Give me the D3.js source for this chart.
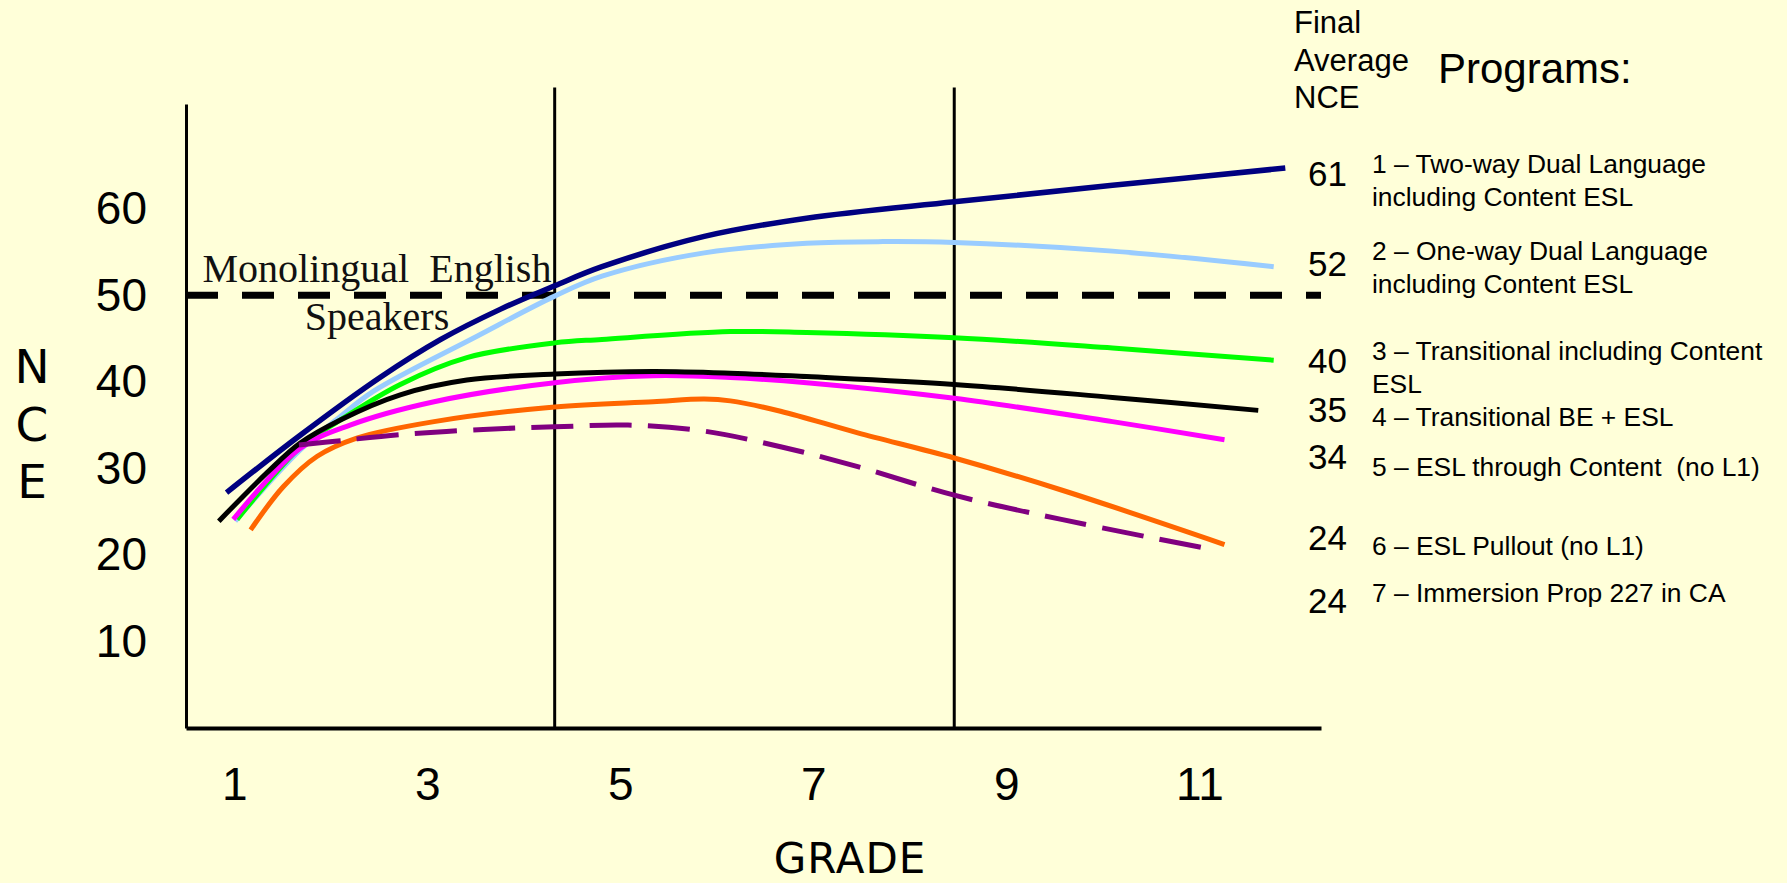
<!DOCTYPE html>
<html>
<head>
<meta charset="utf-8">
<script src="https://cdn.jsdelivr.net/npm/d3@7"></script>
<style>
  html, body { margin: 0; padding: 0; background: #FFFFD9; }
  svg { display: block; }
</style>
</head>
<body>
<svg id="chart" width="1787" height="883"></svg>
<script>
// ---- Data -------------------------------------------------------------
const gradeTicks = [1, 3, 5, 7, 9, 11];
const nceTicks = [10, 20, 30, 40, 50, 60];
const bandDividers = [4.32, 8.46];      // grade positions of the vertical separators
const monolingualNorm = 50;             // NCE of monolingual English speakers

const programLabels = [
  ["1 \u2013 Two-way Dual Language", "including Content ESL"],
  ["2 \u2013 One-way Dual Language", "including Content ESL"],
  ["3 \u2013 Transitional including Content", "ESL"],
  ["4 \u2013 Transitional BE + ESL"],
  ["5 \u2013 ESL through Content  (no L1)"],
  ["6 \u2013 ESL Pullout (no L1)"],
  ["7 \u2013 Immersion Prop 227 in CA"]
];
const finalNCE = [61, 52, 40, 35, 34, 24, 24];
const programColors = ["#000080", "#99CCFF", "#00FF00", "#000000", "#FF00FF", "#FF6600", "#800080"];

// [grade, NCE] pairs for each program
const twoWayDL = [[0.92,27.2],[1.68,33.8],[2.51,40.5],[3.14,44.9],[3.76,48.4],[4.32,51.1],[4.81,53.3],[5.87,56.8],[6.93,58.9],[8.46,60.8],[10.10,62.7],[11.89,64.7]];
const oneWayDL = [[1.01,23.9],[1.68,32.1],[2.10,36.0],[2.44,38.9],[3.52,45.3],[4.32,49.9],[4.81,52.2],[5.87,54.9],[6.93,56.0],[7.72,56.2],[8.46,56.1],[10.10,55.1],[11.77,53.3]];
const transitionalContent = [[1.03,24.1],[1.68,32.4],[2.10,35.6],[2.72,39.7],[3.41,42.8],[4.32,44.5],[4.81,44.9],[6.14,45.8],[6.93,45.7],[8.46,45.1],[10.10,43.9],[11.77,42.5]];
const transitionalBE = [[0.84,23.9],[1.34,29.5],[1.68,32.9],[2.10,35.6],[2.72,38.5],[3.41,40.2],[4.32,40.9],[5.34,41.2],[6.14,41.0],[6.93,40.6],[8.46,39.7],[10.10,38.2],[11.61,36.7]];
const eslContent = [[0.99,24.1],[1.68,32.3],[2.20,35.0],[3.07,37.7],[4.32,39.9],[5.34,40.7],[6.14,40.5],[6.93,39.9],[8.46,38.1],[10.10,35.4],[11.26,33.3]];
const eslPullout = [[1.17,22.9],[1.51,27.9],[1.86,31.4],[2.27,33.5],[3.07,35.4],[4.32,37.1],[5.34,37.7],[5.87,38.0],[6.14,37.8],[6.66,36.6],[7.46,34.1],[8.46,31.2],[9.57,27.5],[11.26,21.2]];
const immersion227 = [[1.67,32.7],[2.10,33.2],[2.72,33.9],[3.58,34.5],[4.32,34.8],[5.08,35.0],[5.87,34.3],[6.66,32.5],[7.46,30.2],[8.46,26.9],[9.57,24.1],[11.05,20.8]];

const programSeries = [twoWayDL, oneWayDL, transitionalContent, transitionalBE, eslContent, eslPullout, immersion227];

// ---- Layout -----------------------------------------------------------
const svg = d3.select("#chart");
const sansFont = "'Liberation Sans', Arial, sans-serif";
const handFont = "'DejaVu Sans', sans-serif";

const x = d3.scaleLinear().domain([0.5, 12.26]).range([186, 1321]);
const y = d3.scaleLinear().domain([0, 72.1]).range([728, 104]);

svg.append("rect").attr("width", 1787).attr("height", 883).attr("fill", "#FFFFD9");

// Vertical grade-band separators
svg.append("g").selectAll("line").data(bandDividers).join("line")
  .attr("x1", d => x(d)).attr("x2", d => x(d))
  .attr("y1", y(0)).attr("y2", y(74))
  .attr("stroke", "#000").attr("stroke-width", 3);

// Axes
const xAxis = svg.append("g").attr("transform", `translate(0,${y(0)})`)
  .call(d3.axisBottom(x).tickValues(gradeTicks).tickSize(0).tickPadding(39).tickFormat(d3.format("d")));
xAxis.select(".domain").attr("stroke", "#000").attr("stroke-width", 4);
xAxis.selectAll("text").attr("font-family", sansFont).attr("font-size", 46).attr("fill", "#000");

const yAxis = svg.append("g").attr("transform", `translate(${x(0.5)},0)`)
  .call(d3.axisLeft(y).tickValues(nceTicks).tickSize(0).tickPadding(39).tickFormat(d3.format("d")));
yAxis.select(".domain").attr("stroke", "#000").attr("stroke-width", 3);
yAxis.selectAll("text").attr("font-family", sansFont).attr("font-size", 46).attr("fill", "#000");

// Axis titles
svg.append("g").selectAll("text").data(["N", "C", "E"]).join("text")
  .attr("x", 32).attr("y", (d, i) => 383 + i * 57.5)
  .attr("text-anchor", "middle")
  .attr("font-family", handFont).attr("font-size", 47).attr("fill", "#000")
  .text(d => d);

svg.append("text").attr("x", 850).attr("y", 873)
  .attr("text-anchor", "middle")
  .attr("font-family", handFont).attr("font-size", 42).attr("letter-spacing", 1).attr("fill", "#000")
  .text("GRADE");

// Monolingual English speakers reference line
svg.append("line")
  .attr("x1", x(0.5)).attr("x2", x(12.26))
  .attr("y1", y(monolingualNorm)).attr("y2", y(monolingualNorm))
  .attr("stroke", "#000").attr("stroke-width", 7).attr("stroke-dasharray", "32 24");

// Program curves
const line = d3.line().x(d => x(d[0])).y(d => y(d[1])).curve(d3.curveCatmullRom.alpha(0.5));
const drawOrder = [1, 2, 4, 3, 5, 6, 0];
svg.append("g").selectAll("path").data(drawOrder).join("path")
  .attr("d", i => line(programSeries[i]))
  .attr("fill", "none")
  .attr("stroke", i => programColors[i])
  .attr("stroke-width", i => i === 0 ? 5.5 : 5)
  .attr("stroke-dasharray", i => i === 6 ? "42 16.3" : null);

// Reference line caption
const caption = svg.append("g").attr("font-family", "'Liberation Serif', 'Times New Roman', serif")
  .attr("font-size", 40).attr("fill", "#111").attr("text-anchor", "middle");
caption.append("text").attr("x", 377).attr("y", 282)
  .style("white-space", "pre").text("Monolingual  English");
caption.append("text").attr("x", 377).attr("y", 330).text("Speakers");

// Side table: final average NCE and program names
const header = svg.append("g").attr("font-family", sansFont).attr("fill", "#000");
header.selectAll("text.h").data(["Final", "Average", "NCE"]).join("text")
  .attr("x", 1294).attr("y", (d, i) => 33 + i * 37.5)
  .attr("font-size", 31).text(d => d);
header.append("text").attr("x", 1438).attr("y", 83).attr("font-size", 42).text("Programs:");

const numberBaselines = [186, 276, 373, 422, 469, 550, 613];
const labelBaselines = [173, 260, 360, 426, 476, 555, 602];

const rows = svg.append("g").attr("font-family", sansFont).attr("fill", "#000");
rows.selectAll("text.nce").data(finalNCE).join("text")
  .attr("class", "nce")
  .attr("x", 1308).attr("y", (d, i) => numberBaselines[i])
  .attr("font-size", 35).text(d => d);

const labelText = rows.selectAll("text.prog").data(programLabels).join("text")
  .attr("class", "prog")
  .attr("x", 1372).attr("y", (d, i) => labelBaselines[i])
  .attr("font-size", 26.4).style("white-space", "pre");
labelText.selectAll("tspan").data(d => d).join("tspan")
  .attr("x", 1372).attr("dy", (d, j) => j === 0 ? 0 : 33)
  .text(d => d);
</script>
</body>
</html>
